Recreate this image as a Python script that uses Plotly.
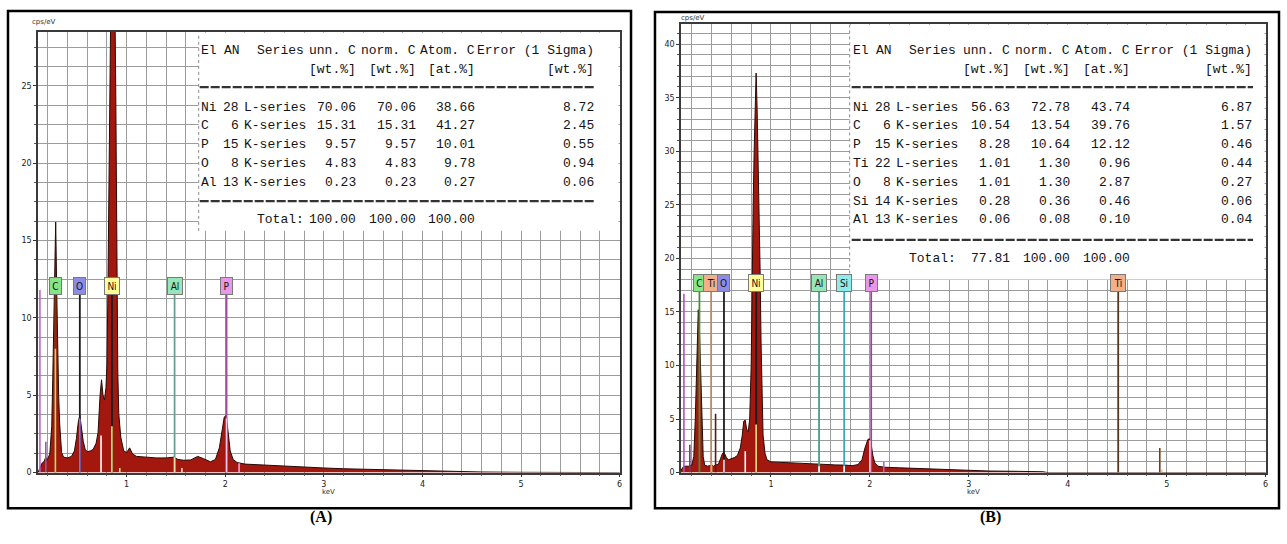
import plotly.graph_objects as go

W, H = 1287, 544

# ---------------- DATA ----------------
# Spectrum (A): energy (keV) and intensity (cps/eV)
energy_a = [0.10, 0.12, 0.14, 0.16, 0.18, 0.19, 0.20, 0.22, 0.24, 0.25,
            0.26, 0.27, 0.28, 0.29, 0.30, 0.31, 0.32, 0.33, 0.34, 0.36,
            0.40, 0.44, 0.47, 0.49, 0.51, 0.525, 0.54, 0.56, 0.58, 0.60,
            0.63, 0.66, 0.69, 0.71, 0.73, 0.745, 0.76, 0.775, 0.79, 0.80,
            0.81, 0.82, 0.83, 0.84, 0.86, 0.88, 0.89, 0.90, 0.91, 0.92,
            0.94, 0.97, 1.00, 1.03, 1.06, 1.10, 1.20, 1.30, 1.40, 1.48,
            1.52, 1.58, 1.65, 1.72, 1.78, 1.85, 1.90, 1.94, 1.97, 1.99,
            2.01, 2.03, 2.05, 2.08, 2.12, 2.20, 2.40, 2.60, 2.80, 3.00,
            3.20, 3.50, 3.80, 4.00, 4.30, 4.60, 5.00, 5.50, 6.00]
counts_a = [0.0, 0.3, 0.6, 0.7, 1.0, 0.8, 0.9, 1.2, 3.0, 6.0,
            10.5, 14.5, 16.2, 12.0, 7.5, 5.0, 3.2, 2.0, 1.3, 1.0,
            0.95, 1.05, 1.4, 2.2, 3.3, 3.7, 3.0, 2.0, 1.5, 1.35,
            1.4, 1.5, 1.9, 2.6, 5.0, 6.0, 5.0, 4.7, 5.5, 7.0,
            12.0, 18.0, 26.0, 31.0, 34.0, 31.0, 24.0, 14.0, 6.5, 3.8,
            2.3, 1.4, 1.3, 1.6, 1.2, 1.05, 1.0, 0.95, 0.95, 1.0,
            0.85, 0.8, 0.82, 1.05, 0.9, 0.7, 0.85, 1.6, 2.8, 3.6,
            3.7, 2.6, 1.4, 0.85, 0.65, 0.55, 0.48, 0.42, 0.36, 0.3,
            0.25, 0.2, 0.14, 0.1, 0.06, 0.04, 0.02, 0.01, 0.0]

# Spectrum (B)
energy_b = [0.09, 0.11, 0.13, 0.15, 0.17, 0.20, 0.22, 0.235, 0.245, 0.255,
            0.265, 0.275, 0.285, 0.295, 0.305, 0.315, 0.33, 0.36, 0.40, 0.42,
            0.44, 0.47, 0.49, 0.51, 0.525, 0.55, 0.57, 0.60, 0.63, 0.66,
            0.69, 0.71, 0.725, 0.74, 0.755, 0.77, 0.785, 0.80, 0.81, 0.82,
            0.83, 0.84, 0.85, 0.86, 0.87, 0.88, 0.89, 0.90, 0.91, 0.92,
            0.94, 0.96, 1.00, 1.10, 1.20, 1.30, 1.40, 1.48, 1.55, 1.65,
            1.75, 1.82, 1.88, 1.92, 1.95, 1.98, 1.995, 2.01, 2.03, 2.05,
            2.08, 2.15, 2.30, 2.50, 2.70, 2.90, 3.00, 3.20, 3.50, 3.75,
            3.80, 6.00]
counts_b = [0.2, 0.5, 0.6, 0.6, 0.6, 0.7, 1.5, 5.0, 8.5, 13.0,
            15.2, 14.0, 11.0, 8.0, 4.0, 1.5, 0.7, 0.6, 0.7, 0.6,
            0.7, 0.8, 1.3, 1.8, 1.9, 1.4, 1.2, 1.3, 1.4, 1.6,
            2.3, 3.5, 4.8, 4.9, 4.0, 3.8, 5.0, 10.0, 19.0, 25.0,
            30.0, 34.0, 37.3, 34.0, 30.0, 25.0, 19.0, 12.0, 6.0, 3.5,
            1.8, 1.2, 1.0, 0.95, 0.9, 0.85, 0.82, 0.8, 0.75, 0.72,
            0.7, 0.65, 0.75, 1.2, 2.3, 3.1, 3.15, 2.8, 1.6, 0.9,
            0.6, 0.5, 0.45, 0.38, 0.32, 0.27, 0.22, 0.15, 0.12, 0.08,
            0.0, 0.0]

# Element identification lines
lines_a_name = ["C", "O", "Ni", "Al", "P"]
lines_a_energy = [0.277, 0.525, 0.851, 1.486, 2.013]
lines_a_color = ["#6b3b12", "#1c1c1c", "#1c1c1c", "#5fa595", "#a04aa0"]
lines_a_fill = ["#86e686", "#8c8ce6", "#ffff9a", "#96e6b8", "#ea96ea"]

lines_b_name = ["C", "Ti", "O", "Ni", "Al", "Si", "P", "Ti"]
lines_b_energy = [0.277, 0.395, 0.525, 0.851, 1.486, 1.740, 2.013, 4.510]
lines_b_color = ["#4c8c3c", "#c08a5a", "#1c1c1c", "#1c1c1c", "#4a9c8c", "#3aaabb", "#a040a0", "#5a3418"]
lines_b_fill = ["#86e686", "#f2b08a", "#8c8ce6", "#ffff9a", "#96e6b8", "#90ecec", "#ea96ea", "#f2b08a"]

# Thin coloured markers seen inside/near the spectrum base
marks_a_energy = [0.12, 0.18, 0.277, 0.525, 0.74, 0.85, 0.93, 1.486, 1.56, 2.013, 2.14]
marks_a_height = [11.8, 2.0, 8.0, 3.5, 2.4, 3.0, 0.3, 1.0, 0.3, 3.5, 0.6]
marks_a_color = ["#b768c8", "#8a5aa8", "#e8c860", "#9a70d8", "#ffffff", "#f0e27a",
                 "#f0e27a", "#f2e2a8", "#f2e2c0", "#f4c8f4", "#eaa0ea"]

marks_b_energy = [0.12, 0.18, 0.44, 0.40, 0.525, 0.74, 0.85, 1.486, 1.74, 2.00, 2.14, 4.93, 4.95]
marks_b_height = [16.7, 2.6, 5.5, 0.9, 1.2, 2.0, 4.5, 0.6, 0.6, 3.0, 1.0, 2.3, 0.3]
marks_b_color = ["#b050c0", "#6a3a7a", "#5a1a10", "#e8a070", "#f8e0f0", "#ffffff", "#f0e27a",
                 "#ffffff", "#ffffff", "#f8d8f8", "#b060c0", "#6a4020", "#f0d070"]

# Quantification tables
header_cols = ["unn. C", "norm. C", "Atom. C", "Error (1 Sigma)"]
unit_cols = ["[wt.%]", "[wt.%]", "[at.%]", "[wt.%]"]

el_a = ["Ni", "C", "P", "O", "Al"]
an_a = [28, 6, 15, 8, 13]
series_a = ["L-series", "K-series", "K-series", "K-series", "K-series"]
unn_a = [70.06, 15.31, 9.57, 4.83, 0.23]
norm_a = [70.06, 15.31, 9.57, 4.83, 0.23]
atom_a = [38.66, 41.27, 10.01, 9.78, 0.27]
err_a = [8.72, 2.45, 0.55, 0.94, 0.06]
total_a = [100.00, 100.00, 100.00]

el_b = ["Ni", "C", "P", "Ti", "O", "Si", "Al"]
an_b = [28, 6, 15, 22, 8, 14, 13]
series_b = ["L-series", "K-series", "K-series", "L-series", "K-series", "K-series", "K-series"]
unn_b = [56.63, 10.54, 8.28, 1.01, 1.01, 0.28, 0.06]
norm_b = [72.78, 13.54, 10.64, 1.30, 1.30, 0.36, 0.08]
atom_b = [43.74, 39.76, 12.12, 0.96, 2.87, 0.46, 0.10]
err_b = [6.87, 1.57, 0.46, 0.44, 0.27, 0.06, 0.04]
total_b = [77.81, 100.00, 100.00]

# ---------------- HELPERS ----------------
def px(x):
    return x / W

def py(y):
    return 1 - y / H

annotations = []
shapes = []
fig = go.Figure()

GRID = "#9c9c9c"
GW = 1.4
axis_common = dict(showline=True, linecolor="#3a3a3a", linewidth=1.5, mirror=True,
                   showgrid=True, gridcolor=GRID, gridwidth=GW, zeroline=False,
                   ticks="outside", ticklen=3, tickcolor="#333",
                   tickfont=dict(size=8, color="#222", family="DejaVu Sans"))

def minor(d):
    return dict(dtick=d, tick0=0, showgrid=True, gridcolor=GRID, gridwidth=GW,
                ticks="outside", ticklen=2, tickcolor="#555")

fig.update_layout(
    width=W, height=H, margin=dict(l=0, r=0, t=0, b=0),
    paper_bgcolor="white", plot_bgcolor="white", showlegend=False,
    xaxis=dict(domain=[px(38), px(621)], range=[0.1, 6.004], anchor="y", dtick=1, tick0=0,
               minor=minor(0.2), **axis_common),
    yaxis=dict(domain=[py(477), py(32)], range=[0, 28.5], anchor="x", dtick=5, tick0=0,
               minor=minor(1.25), **axis_common),
    xaxis2=dict(domain=[px(682), px(1268)], range=[0.09, 6.004], anchor="y2", dtick=1, tick0=0,
                minor=minor(0.2), **axis_common),
    yaxis2=dict(domain=[py(477), py(24)], range=[0, 41.9], anchor="x2", dtick=5, tick0=0,
                minor=minor(1), **axis_common),
)

SPEC_FILL = "#a3180e"

def add_panel(xa, ya, energy, counts, l_name, l_energy, l_color, l_fill, label_y, line_top,
              m_energy, m_height, m_color):
    fig.add_trace(go.Scatter(x=energy, y=counts, xaxis=xa, yaxis=ya, mode="lines",
                             fill="tozeroy", fillcolor=SPEC_FILL,
                             line=dict(color="#2a0805", width=1), hoverinfo="skip"))
    for e, c in zip(l_energy, l_color):
        fig.add_trace(go.Scatter(x=[e, e], y=[0, line_top], xaxis=xa, yaxis=ya, mode="lines",
                                 line=dict(color=c, width=1.8), hoverinfo="skip"))
    for e, h, c in zip(m_energy, m_height, m_color):
        fig.add_trace(go.Scatter(x=[e, e], y=[0, h], xaxis=xa, yaxis=ya, mode="lines",
                                 line=dict(color=c, width=1.6), hoverinfo="skip"))
    for n, e, f, c in zip(l_name, l_energy, l_fill, l_color):
        annotations.append(dict(xref=xa, yref=ya, x=e, y=label_y, text=n, showarrow=False,
                                xanchor="center", yanchor="middle",
                                font=dict(family="DejaVu Sans Condensed, DejaVu Sans", size=10, color="#111"),
                                bgcolor=f, bordercolor="#7a7a7a", borderwidth=1, borderpad=1,
                                width=9 if len(n) == 1 else 12, height=14))

add_panel("x", "y", energy_a, counts_a, lines_a_name, lines_a_energy, lines_a_color, lines_a_fill,
          12.05, 11.5, marks_a_energy, marks_a_height, marks_a_color)
add_panel("x2", "y2", energy_b, counts_b, lines_b_name, lines_b_energy, lines_b_color, lines_b_fill,
          17.7, 16.9, marks_b_energy, marks_b_height, marks_b_color)

# ---------------- TABLES ----------------
FONT_T = dict(family="Liberation Mono, DejaVu Sans Mono, monospace", size=13, color="#141414")

def txt(x, y, s, anchor="left"):
    annotations.append(dict(xref="paper", yref="paper", x=px(x), y=py(y), text=s, showarrow=False,
                            xanchor=anchor, yanchor="middle", font=FONT_T, borderpad=0))

def table(box, cols, ys, el, an, series, unn, norm, atom, err, total):
    bx0, by0, bx1, by1 = box
    shapes.append(dict(type="rect", xref="paper", yref="paper", x0=px(bx0), x1=px(bx1),
                       y0=py(by1), y1=py(by0), fillcolor="white", line=dict(width=0), layer="above"))
    shapes.append(dict(type="line", xref="paper", yref="paper", x0=px(bx0), x1=px(bx0),
                       y0=py(by1), y1=py(by0), line=dict(color="#8a8a8a", width=1, dash="dot"),
                       layer="above"))
    x_el, x_an_l, x_an_r, x_ser_l, x_ser_r, x_unn, x_norm, x_atom, x_err = cols
    y_head, y_unit, y_dash1, y_row0, step, y_dash2, y_tot = ys
    txt(x_el, y_head, "El")
    txt(x_an_l, y_head, "AN")
    txt(x_ser_r, y_head, "Series", "right")
    for xc, h, u in zip([x_unn, x_norm, x_atom, x_err], header_cols, unit_cols):
        txt(xc, y_head, h, "right")
        txt(xc, y_unit, u, "right")
    for yd in (y_dash1, y_dash2):
        shapes.append(dict(type="line", xref="paper", yref="paper", x0=px(x_el), x1=px(x_err),
                           y0=py(yd), y1=py(yd), line=dict(color="#333", width=2.2, dash="9px,2px"),
                           layer="above"))
    for i in range(len(el)):
        y = y_row0 + i * step
        txt(x_el, y, el[i])
        txt(x_an_r, y, str(an[i]), "right")
        txt(x_ser_l, y, series[i])
        txt(x_unn, y, f"{unn[i]:.2f}", "right")
        txt(x_norm, y, f"{norm[i]:.2f}", "right")
        txt(x_atom, y, f"{atom[i]:.2f}", "right")
        txt(x_err, y, f"{err[i]:.2f}", "right")
    txt(x_ser_r, y_tot, "Total:", "right")
    for xc, v in zip([x_unn, x_norm, x_atom], total):
        txt(xc, y_tot, f"{v:.2f}", "right")

table((199, 33, 619.5, 233), (200, 223, 240, 243, 305, 358, 418, 477, 596),
      (51, 70, 88, 108, 19, 203, 222),
      el_a, an_a, series_a, unn_a, norm_a, atom_a, err_a, total_a)
table((851, 25, 1266.5, 282), (853, 876, 893, 896, 958, 1013, 1073, 1133, 1255),
      (51, 70, 88, 108, 19, 242, 261),
      el_b, an_b, series_b, unn_b, norm_b, atom_b, err_b, total_b)

# ---------------- FRAMES & LABELS ----------------
for (x0, y0, x1, y1) in [(8, 11, 632, 513), (656, 12, 1281, 513)]:
    shapes.append(dict(type="rect", xref="paper", yref="paper", x0=px(x0), x1=px(x1),
                       y0=py(y1), y1=py(y0), line=dict(color="#000", width=2.5),
                       fillcolor="rgba(0,0,0,0)", layer="above"))

small = dict(family="DejaVu Sans", size=7, color="#333")
for (x, y, s) in [(44, 22, "cps/eV"), (694, 18, "cps/eV"), (329, 497, "keV"), (975, 497, "keV")]:
    annotations.append(dict(xref="paper", yref="paper", x=px(x), y=py(y), text=s, showarrow=False,
                            xanchor="center", yanchor="middle", font=small))

for (x, y, s) in [(322, 522, "(A)"), (992, 522, "(B)")]:
    annotations.append(dict(xref="paper", yref="paper", x=px(x), y=py(y), text="<b>" + s + "</b>",
                            showarrow=False, xanchor="center", yanchor="middle",
                            font=dict(family="Liberation Serif, Times New Roman, serif", size=16, color="#000")))

fig.update_layout(annotations=annotations, shapes=shapes)
fig.write_html("out.html", config={"displayModeBar": False},
               post_script="document.body.style.margin='0px';document.body.style.overflow='hidden';")
